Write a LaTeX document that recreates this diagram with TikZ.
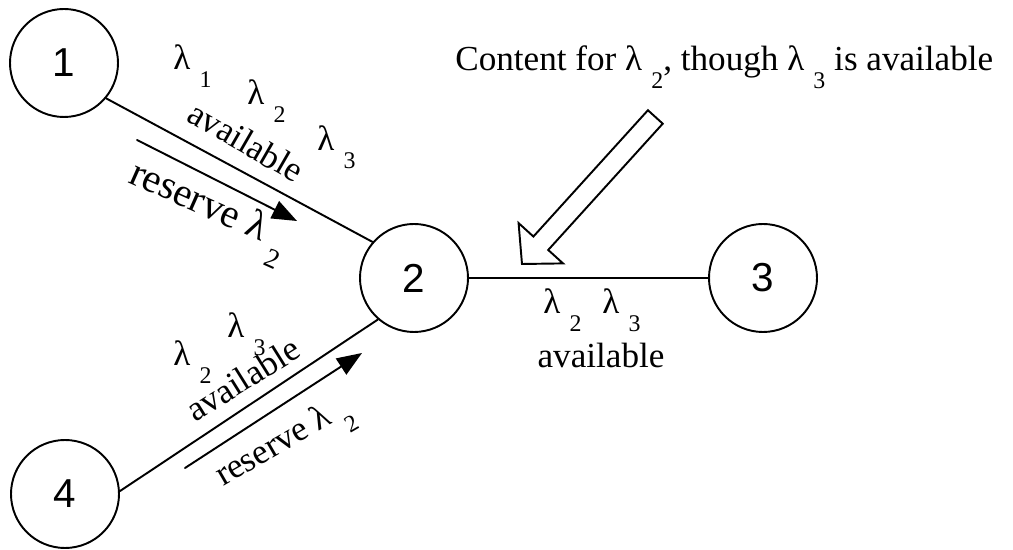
\documentclass[tikz,border=0pt]{standalone}
\usepackage{fontspec}
\usepackage{graphicx}
\setmainfont{Liberation Serif}
\newfontfamily\digitfont{Liberation Sans}
\usetikzlibrary{arrows.meta}

% lambda with a lowered, spaced subscript
\newcommand{\lamsub}[1]{λ\hspace{0.26em}\raisebox{-0.5em}{\scalebox{0.68}{#1}}}

\begin{document}
\begin{tikzpicture}[
  x=1cm,
  y=1cm,
  font=\fontsize{20}{24}\selectfont,
  line cap=round,
  line join=round,
  station/.style={
    draw=black, circle, line width=1.1pt,
    minimum size=2.16cm, inner sep=0pt,
    font=\digitfont\fontsize{23}{27}\selectfont
  },
  link/.style={draw=black,line width=1.1pt},
  label/.style={inner sep=0pt,anchor=base west},
  reserve arrow/.style={
    draw=black,
    line width=1.1pt,
    -{Triangle[length=0.5cm,width=0.38cm]}
  },
  hollow arrow/.style={draw=black,fill=white,line width=1.1pt,line join=miter}
]
  \path[use as bounding box] (0,0) rectangle (20.26,11);

  % nodes and links
  \node[station] (n1) at (1.28,9.74) {1};
  \node[station] (n2) at (8.28,5.44) {2};
  \node[station] (n3) at (15.26,5.44) {3};
  \node[station] (n4) at (1.30,1.12) {4};
  \draw[link] (n1.-40) -- (n2.139);
  \draw[link] (n4.3) -- (n2.-131);
  \draw[link] (n2.east) -- (n3.west);

  % link 1--2
  \node[label] (l12a) at (3.46,9.60) {\lamsub{1}};
  \node[label] (l12b) at (4.94,8.90) {\lamsub{2}};
  \node[label] (l12c) at (6.34,7.98) {\lamsub{3}};
  \node[label,rotate=-30] (av12) at (3.70,8.60) {available};
  \coordinate (r12s) at (2.74,8.20);
  \coordinate (r12e) at (5.94,6.58);
  \draw[reserve arrow] (r12s) -- (r12e);
  \node[label,rotate=-24,font=\fontsize{23}{27}\selectfont] (rs12) at (2.54,7.36)
    {reserve \lamsub{2}};

  % link 4--2
  \node[label] (l42a) at (3.46,3.68) {\lamsub{2}};
  \node[label] (l42b) at (4.54,4.24) {\lamsub{3}};
  \node[label,rotate=32] (av42) at (3.90,2.54) {available};
  \coordinate (r42s) at (3.70,1.64);
  \coordinate (r42e) at (7.24,3.94);
  \draw[reserve arrow] (r42s) -- (r42e);
  \node[label,rotate=30] (rs42) at (4.46,1.26) {reserve \lamsub{2}};

  % link 2--3
  \node[label] (l23a) at (10.86,4.72) {\lamsub{2}};
  \node[label] (l23b) at (12.04,4.72) {\lamsub{3}};
  \node[inner sep=0pt,anchor=base] (av23) at (12.02,3.64) {available};

  % callout
  \node[label] (note) at (9.10,9.58)
    {Content for \lamsub{2}, though \lamsub{3} is available};
  \begin{scope}[shift={(10.44,5.72)},rotate=47.8]
    \draw[hollow arrow] (0,0) -- (0.56,0.60) -- (0.56,0.20) -- (3.97,0.20)
      -- (3.97,-0.20) -- (0.56,-0.20) -- (0.56,-0.60) -- cycle;
  \end{scope}
\end{tikzpicture}
\end{document}
